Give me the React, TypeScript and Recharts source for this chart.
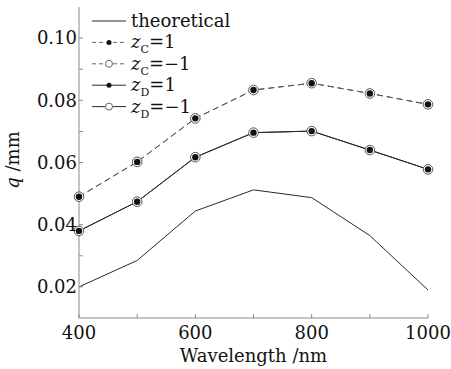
import { LineChart, Line, XAxis, YAxis } from 'recharts'

const wavelengths = [400, 500, 600, 700, 800, 900, 1000]
const theoretical = [0.020, 0.0285, 0.0444, 0.0512, 0.0487, 0.0365, 0.019]
const zC = [0.049, 0.0602, 0.0742, 0.0833, 0.0855, 0.0822, 0.0787]
const zD = [0.038, 0.0474, 0.0617, 0.0696, 0.0701, 0.064, 0.0578]

const xTicks = [400, 500, 600, 700, 800, 900, 1000]
const xLabels = [400, 600, 800, 1000]
const yTicks = [0.02, 0.03, 0.04, 0.05, 0.06, 0.07, 0.08, 0.09, 0.1]
const yLabels = [0.02, 0.04, 0.06, 0.08, 0.1]

const data = wavelengths.map((w, i) => ({
  w,
  theoretical: theoretical[i],
  zCp: zC[i],
  zCm: zC[i],
  zDp: zD[i],
  zDm: zD[i],
}))

const FONT = '"DejaVu Serif", serif'
const AXIS = '#8a8a8a'
const INK = '#2a2a2a'

const FilledDot = (props: any) => {
  const { cx, cy, index } = props
  return <circle key={`f-${index}`} cx={cx} cy={cy} r={3.2} fill="#111" stroke="none" />
}

const OpenDot = (props: any) => {
  const { cx, cy, index } = props
  return <circle key={`o-${index}`} cx={cx} cy={cy} r={4.8} fill="#fff" stroke="#555" strokeWidth={1} />
}

const legendRows = [
  { sub: '', name: 'theoretical', dash: undefined, marker: 'none' },
  { sub: 'C', name: '=1', dash: '4 3', marker: 'filled' },
  { sub: 'C', name: '=\u22121', dash: '4 3', marker: 'open' },
  { sub: 'D', name: '=1', dash: undefined, marker: 'filled' },
  { sub: 'D', name: '=\u22121', dash: undefined, marker: 'open' },
]

// legend drawn over the plot's top-left corner
function LegendBox() {
  return (
    <svg width={150} height={112} style={{ display: 'block' }}>
      {legendRows.map((r, i) => {
        const y = 13 + i * 21.4
        return (
          <g key={i}>
            <line x1={0} x2={34} y1={y} y2={y} stroke={r.dash ? '#666' : INK} strokeWidth={1} strokeDasharray={r.dash} />
            {r.marker === 'filled' && <circle cx={17} cy={y} r={2.5} fill="#111" />}
            {r.marker === 'open' && <circle cx={17} cy={y} r={3.5} fill="#fff" stroke="#666" />}
            {r.sub === '' ? (
              <text x={39} y={y + 6} fontFamily={FONT} fontSize={18} fill="#111">theoretical</text>
            ) : (
              <text x={39} y={y + 6} fontFamily={FONT} fontSize={18} fill="#111">
                <tspan fontStyle="italic">z</tspan>
                <tspan fontSize={11} dy={5}>{r.sub}</tspan>
                <tspan dy={-5}>{r.name}</tspan>
              </text>
            )}
          </g>
        )
      })}
    </svg>
  )
}

const YLabel = () => (
  <text x={19} y={160} transform="rotate(-90 19 160)" textAnchor="middle" fontFamily={FONT} fontSize={18} fill="#111">
    <tspan fontStyle="italic">q</tspan>
    <tspan> /mm</tspan>
  </text>
)

export default function App() {
  return (
    <div style={{ position: 'absolute', left: 0, top: 0, width: 451, height: 369, background: '#fff' }}>
      <LineChart width={451} height={369} data={data} margin={{ top: 7, right: 23, left: 0, bottom: 0 }}>
        <XAxis
          dataKey="w"
          type="number"
          domain={[400, 1000]}
          ticks={xTicks}
          height={51}
          stroke={AXIS}
          tickSize={-4}
          tickMargin={12}
          tickFormatter={(v: number) => (xLabels.includes(v) ? String(v) : '')}
          tick={{ fill: '#111', fontFamily: FONT, fontSize: 18 }}
          label={{ value: 'Wavelength /nm', position: 'insideBottom', offset: 7, fill: '#111', fontFamily: FONT, fontSize: 18 }}
        />
        <XAxis xAxisId="top" dataKey="w" type="number" orientation="top" domain={[400, 1000]} ticks={xTicks} height={0} stroke={AXIS} tickSize={-4} tick={false} />
        <YAxis
          type="number"
          domain={[0.01, 0.11]}
          ticks={yTicks}
          width={79}
          stroke={AXIS}
          tickSize={-4}
          tickMargin={6}
          allowDataOverflow
          tickFormatter={(v: number) => (yLabels.some((l) => Math.abs(l - v) < 1e-9) ? v.toFixed(2) : '')}
          tick={{ fill: '#111', fontFamily: FONT, fontSize: 18 }}
          label={<YLabel />}
        />
        <YAxis yAxisId="right" orientation="right" type="number" domain={[0.01, 0.11]} ticks={yTicks} width={0} stroke={AXIS} tickSize={-4} tick={false} />
        <Line dataKey="theoretical" stroke={INK} strokeWidth={1} dot={false} isAnimationActive={false} />
        <Line dataKey="zCm" stroke="#555" strokeWidth={1} strokeDasharray="6 4" dot={OpenDot} isAnimationActive={false} />
        <Line dataKey="zCp" stroke="#555" strokeWidth={1} strokeDasharray="6 4" dot={FilledDot} isAnimationActive={false} />
        <Line dataKey="zDm" stroke={INK} strokeWidth={1} dot={OpenDot} isAnimationActive={false} />
        <Line dataKey="zDp" stroke={INK} strokeWidth={1} dot={FilledDot} isAnimationActive={false} />
      </LineChart>
      <div style={{ position: 'absolute', left: 92, top: 8 }}>
        <LegendBox />
      </div>
    </div>
  )
}
